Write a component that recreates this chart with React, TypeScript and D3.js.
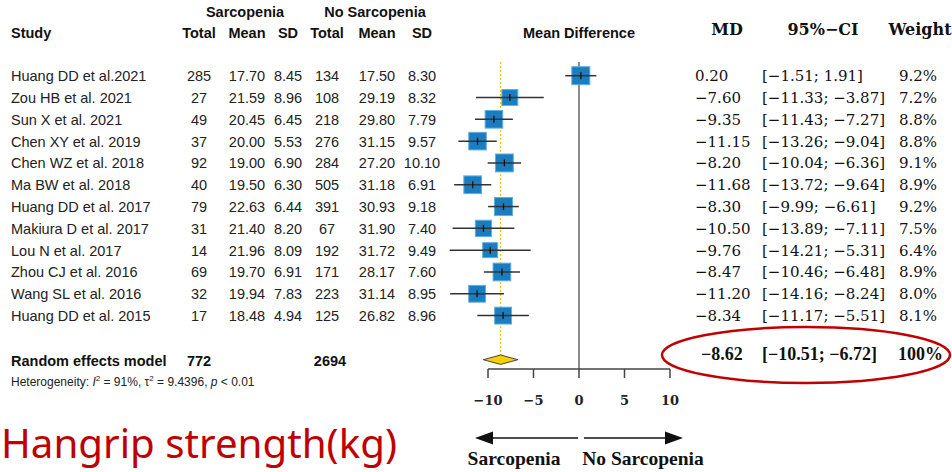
import React from 'react';
import * as d3 from 'd3';

const studies = [
  'Huang DD et al.2021', 'Zou HB et al. 2021', 'Sun X et al. 2021', 'Chen XY et al. 2019',
  'Chen WZ et al. 2018', 'Ma BW et al. 2018', 'Huang DD et al. 2017', 'Makiura D et al. 2017',
  'Lou N et al. 2017', 'Zhou CJ et al. 2016', 'Wang SL et al. 2016', 'Huang DD et al. 2015'
];
const sarcTotal = [285, 27, 49, 37, 92, 40, 79, 31, 14, 69, 32, 17];
const sarcMean = [17.70, 21.59, 20.45, 20.00, 19.00, 19.50, 22.63, 21.40, 21.96, 19.70, 19.94, 18.48];
const sarcSD = [8.45, 8.96, 6.45, 5.53, 6.90, 6.30, 6.44, 8.20, 8.09, 6.91, 7.83, 4.94];
const noTotal = [134, 108, 218, 276, 284, 505, 391, 67, 192, 171, 223, 125];
const noMean = [17.50, 29.19, 29.80, 31.15, 27.20, 31.18, 30.93, 31.90, 31.72, 28.17, 31.14, 26.82];
const noSD = [8.30, 8.32, 7.79, 9.57, 10.10, 6.91, 9.18, 7.40, 9.49, 7.60, 8.95, 8.96];
const md = [0.20, -7.60, -9.35, -11.15, -8.20, -11.68, -8.30, -10.50, -9.76, -8.47, -11.20, -8.34];
const ciLow = [-1.51, -11.33, -11.43, -13.26, -10.04, -13.72, -9.99, -13.89, -14.21, -10.46, -14.16, -11.17];
const ciHigh = [1.91, -3.87, -7.27, -9.04, -6.36, -9.64, -6.61, -7.11, -5.31, -6.48, -8.24, -5.51];
const weights = [9.2, 7.2, 8.8, 8.8, 9.1, 8.9, 9.2, 7.5, 6.4, 8.9, 8.0, 8.1];

const pooled = { md: -8.62, lo: -10.51, hi: -6.72, nSarc: 772, nNo: 2694 };
const xTicks = [-10, -5, 0, 5, 10];

const fmt = (v: number) => v.toFixed(2).replace('-', '\u2212');
const SANS = '"Liberation Sans", Arial, sans-serif';
const SERIF = '"DejaVu Serif", serif';
const TIMES = '"Liberation Serif", "Times New Roman", serif';

export default function App() {
  const width = 952;
  const height = 472;

  const x = d3.scaleLinear().domain([-10, 10]).range([488, 670]);
  const y = d3.scaleLinear().domain([0, studies.length - 1]).range([75.7, 315.6]);
  const box = d3.scaleSqrt().domain([0, 9.2]).range([0, 18]);

  const sumY = 359.7;
  const axisY = 369;

  const cols = [
    { cx: 199, vals: sarcTotal.map(String) },
    { cx: 247, vals: sarcMean.map(v => v.toFixed(2)) },
    { cx: 288, vals: sarcSD.map(v => v.toFixed(2)) },
    { cx: 327, vals: noTotal.map(String) },
    { cx: 377, vals: noMean.map(v => v.toFixed(2)) },
    { cx: 422, vals: noSD.map(v => v.toFixed(2)) },
  ];
  const colHeads = ['Total', 'Mean', 'SD', 'Total', 'Mean', 'SD'];

  const diamond = d3.line<[number, number]>()([
    [x(pooled.lo), sumY],
    [x(pooled.md), sumY - 4.7],
    [x(pooled.hi), sumY],
    [x(pooled.md), sumY + 4.7],
  ]) + 'Z';

  return (
    <svg width={width} height={height} style={{ position: 'absolute', left: 0, top: 0, background: '#fff' }}>
      {/* left table headers */}
      <g fontFamily={SANS} fontWeight="bold" fontSize={14.5} fill="#111">
        <text x={245} y={17} textAnchor="middle">Sarcopenia</text>
        <text x={375} y={17} textAnchor="middle">No Sarcopenia</text>
        <text x={11} y={38}>Study</text>
        {colHeads.map((h, i) => (
          <text key={i} x={cols[i].cx} y={38} textAnchor="middle">{h}</text>
        ))}
        <text x={579} y={38} textAnchor="middle">Mean Difference</text>
      </g>

      {/* right headers */}
      <g fontFamily={SERIF} fontWeight="bold" fontSize={16} fill="#111">
        <text x={727} y={35} textAnchor="middle">MD</text>
        <text x={823} y={35} textAnchor="middle">95%{'\u2212'}CI</text>
        <text x={920} y={35} textAnchor="middle">Weight</text>
      </g>

      {/* study rows */}
      <g fontFamily={SANS} fontSize={14.5} fill="#222">
        {studies.map((s, i) => (
          <g key={s + i}>
            <text x={11} y={y(i) + 5.5}>{s}</text>
            {cols.map((c, j) => (
              <text key={j} x={c.cx} y={y(i) + 5.5} textAnchor="middle">{c.vals[i]}</text>
            ))}
          </g>
        ))}
      </g>
      <g fontFamily={SERIF} fontSize={15} fill="#111">
        {studies.map((s, i) => (
          <g key={s + i}>
            <text x={695} y={y(i) + 5.5}>{fmt(md[i])}</text>
            <text x={762} y={y(i) + 5.5}>[{fmt(ciLow[i])}; {fmt(ciHigh[i])}]</text>
            <text x={937} y={y(i) + 5.5} textAnchor="end">{weights[i].toFixed(1)}%</text>
          </g>
        ))}
      </g>

      {/* pooled row */}
      <g fontFamily={SANS} fontWeight="bold" fontSize={14.5} fill="#111">
        <text x={11} y={sumY + 6}>Random effects model</text>
        <text x={cols[0].cx} y={sumY + 6} textAnchor="middle">{pooled.nSarc}</text>
        <text x={330} y={sumY + 6} textAnchor="middle">{pooled.nNo}</text>
      </g>
      <text x={11} y={386} fontFamily={SANS} fontSize={12} fill="#222">
        Heterogeneity: <tspan fontStyle="italic">I</tspan><tspan dy={-5} fontSize={8}>2</tspan>
        <tspan dy={5}> = 91%, τ</tspan><tspan dy={-5} fontSize={8}>2</tspan>
        <tspan dy={5}> = 9.4396, </tspan><tspan fontStyle="italic">p</tspan> &lt; 0.01
      </text>
      <g fontFamily={TIMES} fontWeight="bold" fontSize={18} fill="#111">
        <text x={701} y={360}>{fmt(pooled.md)}</text>
        <text x={762} y={360}>[{fmt(pooled.lo)}; {fmt(pooled.hi)}]</text>
        <text x={943} y={360} textAnchor="end">100%</text>
      </g>

      {/* plot */}
      <line x1={x(0)} x2={x(0)} y1={62} y2={axisY} stroke="#666" strokeWidth={1.5} />
      <line x1={x(pooled.md)} x2={x(pooled.md)} y1={62} y2={sumY} stroke="#f3c800" strokeWidth={1.3} strokeDasharray="2,2" />
      {studies.map((s, i) => {
        const sz = box(weights[i]);
        return (
          <g key={s + i}>
            <rect x={x(md[i]) - sz / 2} y={y(i) - sz / 2} width={sz} height={sz}
              fill="#1a7dbf" stroke="#63aee0" strokeWidth={1} />
            <line x1={x(ciLow[i])} x2={x(ciHigh[i])} y1={y(i)} y2={y(i)} stroke="#333" strokeWidth={1.5} />
            <line x1={x(md[i])} x2={x(md[i])} y1={y(i) - 3.5} y2={y(i) + 3.5} stroke="#111" strokeWidth={1.3} />
          </g>
        );
      })}
      <path d={diamond} fill="#f7d000" stroke="#444" strokeWidth={1} />

      {/* axis */}
      <line x1={x(-10)} x2={x(10)} y1={axisY} y2={axisY} stroke="#444" strokeWidth={1.5} />
      {xTicks.map(t => (
        <g key={t}>
          <line x1={x(t)} x2={x(t)} y1={axisY} y2={axisY + 9} stroke="#444" strokeWidth={1.5} />
          <text x={x(t)} y={405} textAnchor="middle" fontFamily={SERIF} fontWeight="bold" fontSize={13} fill="#222">
            {t < 0 ? '\u2212' + Math.abs(t) : t}
          </text>
        </g>
      ))}

      {/* direction arrows */}
      <line x1={578} x2={488} y1={438} y2={438} stroke="#111" strokeWidth={1.5} />
      <path d="M475,438 L493,431.5 L493,444.5 Z" fill="#111" />
      <line x1={584} x2={670} y1={438} y2={438} stroke="#111" strokeWidth={1.5} />
      <path d="M683,438 L665,431.5 L665,444.5 Z" fill="#111" />
      <g fontFamily={TIMES} fontWeight="bold" fontSize={19.5} fill="#111">
        <text x={514} y={465} textAnchor="middle">Sarcopenia</text>
        <text x={643} y={465} textAnchor="middle">No Sarcopenia</text>
      </g>

      {/* annotation */}
      <ellipse cx={806} cy={355} rx={144} ry={28} fill="none" stroke="#c00000" strokeWidth={2.5} />
      <text x={1} y={458} fontFamily='"Noto Sans", sans-serif' fontSize={40} fill="#c00000"
        textLength={396} lengthAdjust="spacingAndGlyphs">Hangrip strength(kg)</text>
    </svg>
  );
}
